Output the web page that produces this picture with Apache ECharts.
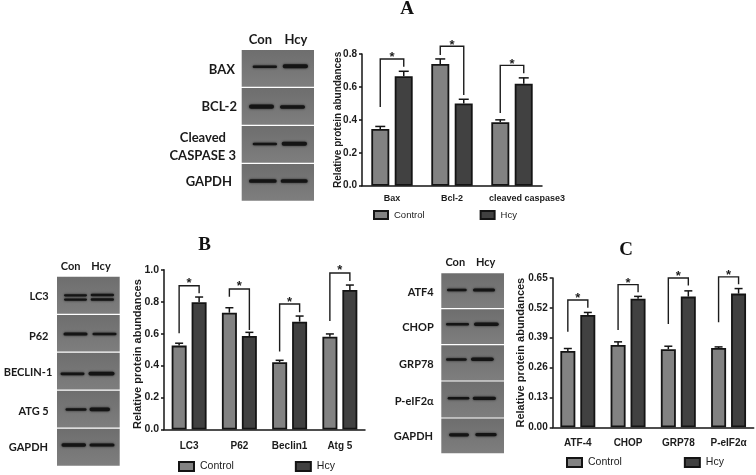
<!DOCTYPE html>
<html>
<head>
<meta charset="utf-8">
<style>html,body{margin:0;padding:0;background:#fff}#c{width:756px;height:475px}</style>
<script src="https://cdn.jsdelivr.net/npm/echarts@6/dist/echarts.min.js"></script>
</head>
<body>
<div id="c"></div>
<script>
// ---- Data ----
var seriesNames = ['Control', 'Hcy'];

var categoriesA = ['Bax', 'Bcl-2', 'cleaved caspase3'];
var controlA    = [0.345, 0.74, 0.385];
var hcyA        = [0.665, 0.50, 0.62];
var controlTopA = [0.36, 0.77, 0.40];
var hcyTopA     = [0.695, 0.525, 0.655];
// left foot, top, right foot, star
var bracketA    = [[0.478, 0.77, 0.723, 0.795], [0.794, 0.847, 0.551, 0.872], [0.442, 0.731, 0.683, 0.757]];

var categoriesB = ['LC3', 'P62', 'Beclin1', 'Atg 5'];
var controlB    = [0.525, 0.731, 0.421, 0.58];
var hcyB        = [0.796, 0.585, 0.675, 0.873];
var controlTopB = [0.54, 0.762, 0.433, 0.598];
var hcyTopB     = [0.829, 0.608, 0.71, 0.904];
var bracketB    = [[0.602, 0.90, 0.852, 0.93], [0.831, 0.879, 0.623, 0.915], [0.4875, 0.785, 0.733, 0.817], [0.679, 0.979, 0.929, 1.015]];

var categoriesC = ['ATF-4', 'CHOP', 'GRP78', 'P-eIF2\u03b1'];
var controlC    = [0.332, 0.358, 0.34, 0.345];
var hcyC        = [0.489, 0.56, 0.569, 0.582];
var controlTopC = [0.343, 0.372, 0.353, 0.35];
var hcyTopC     = [0.50, 0.57, 0.594, 0.604];
var bracketC    = [[0.4165, 0.554, 0.521, 0.576], [0.424, 0.621, 0.588, 0.6415], [0.45, 0.65, 0.617, 0.67], [0.457, 0.655, 0.623, 0.675]];

var yName = 'Relative protein abundances';

// ---- Panel layout ----
var panels = [
  { cats: categoriesA, ctrl: controlA, hcy: hcyA, ctrlTop: controlTopA, hcyTop: hcyTopA, br: bracketA,
    left: 362, width: 180, top: 54, bottom: 185.7, max: 0.8, step: 0.2, dec: 1, bw: 18, gap: '30%', dx: 11.75, cap: 5,
    nameFs: 10, nameGap: 9, namePad: [0, 0, 0, 0], labelFs: 9, labelMargin: 8, labelShift: { 2: 30 }, ticFs: 10,
    legendLeft: 373, legendTop: 210, legendGap: 55, legendFs: 9.5, swH: 8, swW: 14 },
  { cats: categoriesB, ctrl: controlB, hcy: hcyB, ctrlTop: controlTopB, hcyTop: hcyTopB, br: bracketB,
    left: 164, width: 201, top: 269.7, bottom: 429.5, max: 1, step: 0.2, dec: 1, bw: 15, gap: '33%', dx: 10, cap: 4,
    nameFs: 11, nameGap: 10.5, namePad: [0, 9, 0, 0], labelFs: 10, labelMargin: 12, labelShift: {}, ticFs: 10.5,
    legendLeft: 178, legendTop: 461, legendGap: 61, legendFs: 10.5, swH: 9, swW: 15 },
  { cats: categoriesC, ctrl: controlC, hcy: hcyC, ctrlTop: controlTopC, hcyTop: hcyTopC, br: bracketC,
    left: 552.7, width: 201, top: 278, bottom: 427.3, max: 0.65, step: 0.13, dec: 2, bw: 15, gap: '33%', dx: 10, cap: 4,
    nameFs: 11, nameGap: 16.7, namePad: [0, 0, 0, 0], labelFs: 10, labelMargin: 10.5, labelShift: {}, ticFs: 10,
    legendLeft: 566, legendTop: 457, legendGap: 62, legendFs: 10.5, swH: 9, swW: 15 }
];

var INK = '#141414';
var option = { animation: false, backgroundColor: '#fff', grid: [], xAxis: [], yAxis: [], legend: [], series: [] };

panels.forEach(function (p, i) {
  option.grid.push({ left: p.left, top: p.top, width: p.width, height: p.bottom - p.top });
  option.xAxis.push({
    type: 'category', gridIndex: i,
    data: p.cats.map(function (c, k) {
      return p.labelShift[k] ? { value: c, textStyle: { padding: [0, 0, 0, p.labelShift[k]] } } : c;
    }),
    axisLine: { lineStyle: { color: INK, width: 1.5 } },
    axisTick: { alignWithLabel: true, length: 4, lineStyle: { color: INK, width: 1.5 } },
    axisLabel: { interval: 0, margin: p.labelMargin, fontFamily: 'Liberation Sans', fontWeight: 'bold', fontSize: p.labelFs, color: '#1c1c1c' }
  });
  option.yAxis.push({
    type: 'value', gridIndex: i, min: 0, max: p.max, interval: p.step,
    name: yName, nameLocation: 'middle', nameGap: p.nameGap + p.ticFs, nameMoveOverlap: false,
    nameTextStyle: { fontFamily: 'Liberation Sans', fontWeight: 'bold', fontSize: p.nameFs, color: '#1c1c1c', padding: p.namePad },
    splitLine: { show: false },
    axisLine: { show: true, lineStyle: { color: INK, width: 1.5 } },
    axisTick: { show: true, length: 3, lineStyle: { color: INK, width: 1.5 } },
    axisLabel: { margin: 5, fontFamily: 'Liberation Sans', fontWeight: 'bold', fontSize: p.ticFs, color: '#1c1c1c',
      formatter: function (v) { return v.toFixed(p.dec); } }
  });
  option.legend.push({
    data: seriesNames, left: p.legendLeft, top: p.legendTop, orient: 'horizontal', padding: 0,
    selectedMode: false, icon: 'rect', itemWidth: p.swW, itemHeight: p.swH, itemGap: p.legendGap,
    textStyle: { fontFamily: 'Liberation Sans', fontSize: p.legendFs, color: '#222', padding: [0, 0, 0, 1] }
  });

  [['Control', p.ctrl, '#828282'], ['Hcy', p.hcy, '#414141']].forEach(function (s) {
    option.series.push({
      name: s[0], type: 'bar', xAxisIndex: i, yAxisIndex: i, data: s[1],
      barWidth: p.bw, barGap: p.gap, z: 3,
      itemStyle: { color: s[2], borderColor: INK, borderWidth: 1.8 }
    });
  });

  // error bars (upper whisker only)
  option.series.push({
    name: 'errors' + i, type: 'custom', xAxisIndex: i, yAxisIndex: i, z: 2, silent: true,
    encode: { x: 0, y: 1 },
    data: p.cats.map(function (c, k) { return [k, p.ctrlTop[k], p.hcyTop[k], p.ctrl[k], p.hcy[k]]; }),
    renderItem: function (params, api) {
      var k = api.value(0), kids = [];
      [[-p.dx, 1, 3], [p.dx, 2, 4]].forEach(function (d) {
        var top = api.coord([k, api.value(d[1])]);
        var base = api.coord([k, api.value(d[2])]);
        var x = top[0] + d[0];
        kids.push({ type: 'line', shape: { x1: x, y1: base[1], x2: x, y2: top[1] }, style: { stroke: INK, lineWidth: 1.5 } });
        kids.push({ type: 'line', shape: { x1: x - p.cap, y1: top[1], x2: x + p.cap, y2: top[1] }, style: { stroke: INK, lineWidth: 1.5 } });
      });
      return { type: 'group', children: kids };
    }
  });

  // significance brackets
  option.series.push({
    name: 'brackets' + i, type: 'custom', xAxisIndex: i, yAxisIndex: i, z: 4, silent: true, clip: false,
    encode: { x: 0, y: 2 },
    data: p.br.map(function (b, k) { return [k, b[0], b[1], b[2], b[3]]; }),
    renderItem: function (params, api) {
      var k = api.value(0);
      var c = api.coord([k, api.value(2)]);
      var xl = c[0] - p.dx, xr = c[0] + p.dx;
      var yl = api.coord([k, api.value(1)])[1];
      var yr = api.coord([k, api.value(3)])[1];
      var ys = api.coord([k, api.value(4)])[1];
      return { type: 'group', children: [
        { type: 'polyline', shape: { points: [[xl, yl], [xl, c[1]], [xr, c[1]], [xr, yr]] }, style: { stroke: '#1c1c1c', fill: 'none', lineWidth: 1.4 } },
        { type: 'text', style: { x: c[0], y: ys + 3, text: '*', align: 'center', verticalAlign: 'middle',
            font: 'bold 13px "Liberation Sans"', fill: '#1c1c1c' } }
      ] };
    }
  });
});

// ---- Western blot panels and their labels ----
function txt(x, y, s, align, font, color) {
  return { type: 'text', silent: true, x: x, y: y,
    style: { text: s, align: align, verticalAlign: 'middle', font: font, fill: color || '#1a1a1a' } };
}
function blot(x0, x1, ys, bands) {
  var out = [];
  for (var i = 0; i < ys.length - 1; i++) {
    out.push({ type: 'rect', silent: true, shape: { x: x0, y: ys[i], width: x1 - x0, height: ys[i + 1] - ys[i] - 1.2 },
      style: { fill: { type: 'linear', x: 0, y: 0, x2: 0, y2: 1, colorStops: [{ offset: 0, color: '#6e6e6e' }, { offset: 1, color: '#7e7e7e' }] } } });
  }
  bands.forEach(function (b) {
    var h = b[3] + 0.5;
    out.push({ type: 'rect', silent: true, shape: { x: b[0], y: b[2] - h / 2, width: b[1] - b[0], height: h, r: h / 2 },
      style: { fill: '#141414', shadowBlur: 2.5, shadowColor: '#222' } });
  });
  return out;
}
var FA = 'bold 13px Lato, "Open Sans"';
var F = 'bold 11px Lato, "Open Sans"';
var gfx = [];
var T = 'bold 19px "Liberation Serif"';
gfx.push(txt(407, 9.5, 'A', 'center', T, '#111'), txt(204.7, 245, 'B', 'center', T, '#111'), txt(626, 250, 'C', 'center', T, '#111'));

gfx = gfx.concat(blot(241.7, 314, [50, 88, 126, 164, 201.9], [
  [252.7, 277, 66.7, 2], [282.7, 308, 66.2, 3.4], [249, 274, 106.7, 3.8], [280, 305, 107, 2.8],
  [252.7, 277, 144, 2.2], [281.7, 307, 143.7, 3.4], [249, 276.7, 181, 3.2], [280.7, 307.7, 181, 3.2]]));
gfx.push(txt(260.5, 40, 'Con', 'center', FA), txt(296, 40, 'Hcy', 'center', FA),
  txt(235, 70, 'BAX', 'right', FA), txt(237, 106.7, 'BCL-2', 'right', FA),
  txt(226, 138, 'Cleaved', 'right', FA), txt(236, 155.7, 'CASPASE 3', 'right', FA), txt(232, 181.7, 'GAPDH', 'right', FA));

gfx = gfx.concat(blot(57, 119.7, [276.7, 315, 352.8, 390.8, 428.8, 466.9], [
  [64, 87, 295.3, 1.8], [90.7, 114, 295, 2], [64, 87, 299.6, 1.6], [90.7, 114, 299.6, 2],
  [63.5, 87.5, 334, 2.6], [92.5, 116.5, 334, 2.2], [60.5, 84.5, 373.8, 2.2], [88.5, 114.5, 373.6, 3.2],
  [65.5, 86.5, 409.5, 2], [89.5, 110, 409.3, 3.2], [61.5, 86, 445, 2.8], [89.5, 114.5, 445, 2.6]]));
gfx.push(txt(70.7, 266, 'Con', 'center', F), txt(101, 266, 'Hcy', 'center', F),
  txt(48.7, 296.7, 'LC3', 'right', F), txt(48.5, 336, 'P62', 'right', F), txt(52.3, 372.7, 'BECLIN-1', 'right', F),
  txt(48.7, 411, 'ATG 5', 'right', F), txt(48, 447.3, 'GAPDH', 'right', F));

gfx = gfx.concat(blot(441.3, 504, [273.3, 309.3, 345.3, 381.6, 418.6, 454.5], [
  [447, 466.7, 290, 2], [473, 495, 290, 2.6], [446, 469, 324.3, 2], [474, 498.7, 324.3, 3],
  [446, 466.7, 359.5, 2], [471, 493.7, 359.3, 3], [447.7, 469.3, 398.3, 2], [472.7, 496, 398.3, 2.8],
  [449, 469, 434.8, 2.8], [475.3, 496.7, 434.6, 2.6]]));
gfx.push(txt(455.3, 262, 'Con', 'center', F), txt(485.7, 262, 'Hcy', 'center', F),
  txt(433.7, 292.3, 'ATF4', 'right', F), txt(433.7, 327.7, 'CHOP', 'right', F), txt(433.7, 364, 'GRP78', 'right', F),
  txt(433.7, 401.7, 'P-eIF2\u03b1', 'right', F), txt(433, 436.7, 'GAPDH', 'right', F));

option.graphic = { elements: gfx };

var chart = echarts.init(document.getElementById('c'), null, { renderer: 'canvas' });
chart.setOption(option);
</script>
</body>
</html>
